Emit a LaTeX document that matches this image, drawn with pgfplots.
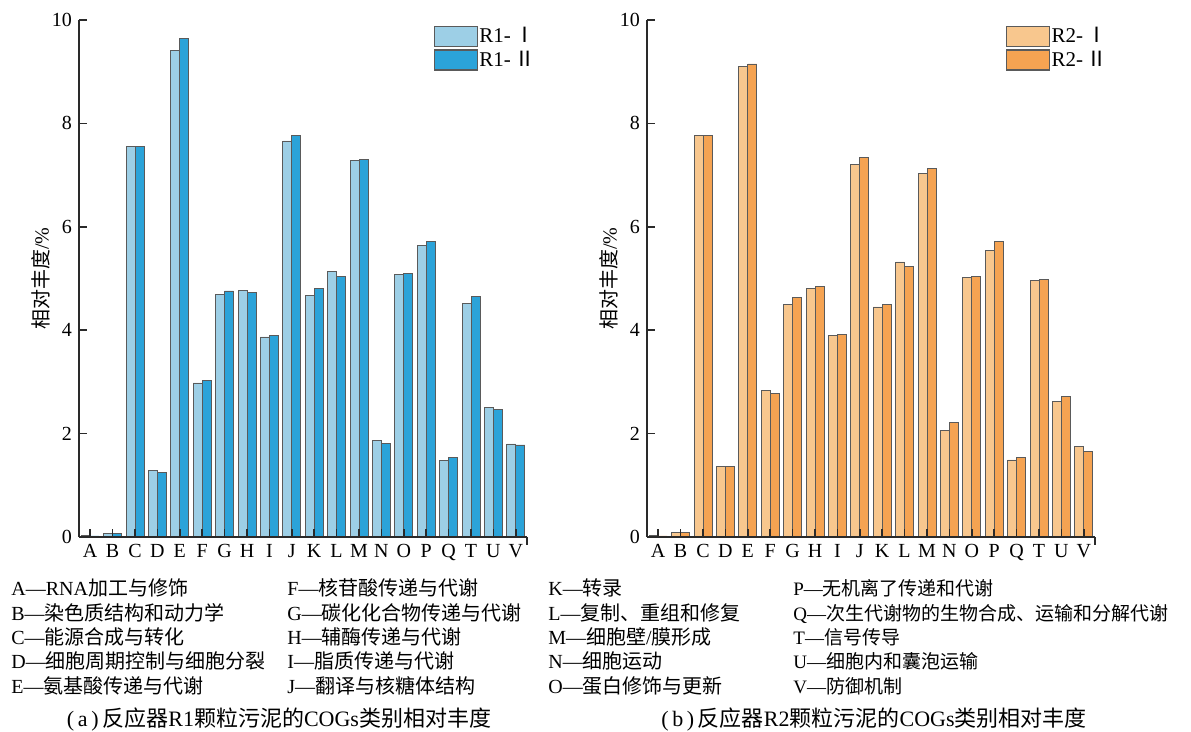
\documentclass[border=0pt]{standalone}
\usepackage{fontspec}
\setmainfont{Liberation Serif}
\newfontfamily\cjk{Noto Sans CJK SC}
\usepackage{pgfplots}
\pgfplotsset{compat=1.18}
\usepackage{pgfplotstable}

\definecolor{b1}{HTML}{9DCFE6}
\definecolor{b2}{HTML}{2BA3D9}
\definecolor{o1}{HTML}{F8C78E}
\definecolor{o2}{HTML}{F5A352}
\definecolor{edge}{HTML}{5A5A5A}
\definecolor{axc}{HTML}{2A2A2A}

% R1: a = R1-I, b = R1-II
\pgfplotstableread{
x a b
0 0.03 0.02
1 0.07 0.07
2 7.56 7.56
3 1.28 1.25
4 9.41 9.65
5 2.98 3.02
6 4.70 4.76
7 4.77 4.73
8 3.87 3.89
9 7.66 7.77
10 4.68 4.81
11 5.13 5.04
12 7.28 7.31
13 1.86 1.81
14 5.07 5.10
15 5.64 5.71
16 1.48 1.54
17 4.52 4.66
18 2.51 2.47
19 1.80 1.78
}\dataA

% R2: a = R2-I, b = R2-II
\pgfplotstableread{
x a b
0 0.03 0.02
1 0.08 0.08
2 7.76 7.77
3 1.36 1.36
4 9.11 9.15
5 2.83 2.77
6 4.49 4.63
7 4.81 4.85
8 3.90 3.92
9 7.21 7.34
10 4.45 4.50
11 5.32 5.24
12 7.03 7.12
13 2.06 2.22
14 5.02 5.04
15 5.54 5.72
16 1.49 1.54
17 4.97 4.99
18 2.62 2.72
19 1.75 1.66
}\dataB

\pgfplotsset{
  cogs/.style={
    scale only axis, width=224pt, height=258.5pt,
    xmin=-0.5, xmax=19.5, ymin=0, ymax=10,
    axis x line=bottom, axis y line=left,
    axis line style={-, draw=axc, line width=0.8pt},
    axis on top,
    ytick={0,2,4,6,8,10},
    xtick={0,...,19},
    xticklabels={A,B,C,D,E,F,G,H,I,J,K,L,M,N,O,P,Q,T,U,V},
    extra x ticks={19.5}, extra x tick labels={},
    extra x tick style={tick align=outside},
    tick align=inside, major tick length=4pt,
    tick style={draw=axc, line width=0.8pt},
    ticklabel style={font=\fontsize{10}{12}\selectfont},
    /pgf/number format/assume math mode=true,
    bar width=0.4,
    ylabel={{\cjk 相对丰度}/\%},
    ylabel style={at={(axis description cs:-0.085,0.5)}, anchor=center, rotate=0,
      font=\fontsize{10}{12}\selectfont},
    legend cell align=left,
    legend style={draw=none, fill=none, inner sep=0pt, anchor=north west,
      nodes={inner sep=0.75pt}, row sep=1.2pt,
      font=\fontsize{10.5}{12}\selectfont},
  }
}

\begin{document}
\begin{tikzpicture}
\path[use as bounding box] (0pt,0pt) rectangle (595.5pt,-366pt);

\begin{axis}[cogs, at={(39.5pt,-268.5pt)}, anchor=south west,
  legend style={at={(axis description cs:0.791,0.99)}}]
\addplot[ybar, bar shift=-0.2, fill=b1, draw=edge, line width=0.4pt, forget plot] table[x=x,y=a]{\dataA};
\addplot[ybar, bar shift=0.2, fill=b2, draw=edge, line width=0.4pt, forget plot] table[x=x,y=b]{\dataA};
\addlegendimage{legend image code/.code={\draw[fill=b1,draw=edge,line width=0.6pt] (0pt,-5pt) rectangle (21.5pt,5pt);}}
\addlegendentry{R1-\,{\cjk Ⅰ}}
\addlegendimage{legend image code/.code={\draw[fill=b2,draw=edge,line width=0.6pt] (0pt,-5pt) rectangle (21.5pt,5pt);}}
\addlegendentry{R1-\,{\cjk Ⅱ}}
\end{axis}

\begin{axis}[cogs, at={(323.5pt,-268.5pt)}, anchor=south west,
  legend style={at={(axis description cs:0.800,0.99)}}]
\addplot[ybar, bar shift=-0.2, fill=o1, draw=edge, line width=0.4pt, forget plot] table[x=x,y=a]{\dataB};
\addplot[ybar, bar shift=0.2, fill=o2, draw=edge, line width=0.4pt, forget plot] table[x=x,y=b]{\dataB};
\addlegendimage{legend image code/.code={\draw[fill=o1,draw=edge,line width=0.6pt] (0pt,-5pt) rectangle (21.5pt,5pt);}}
\addlegendentry{R2-\,{\cjk Ⅰ}}
\addlegendimage{legend image code/.code={\draw[fill=o2,draw=edge,line width=0.6pt] (0pt,-5pt) rectangle (21.5pt,5pt);}}
\addlegendentry{R2-\,{\cjk Ⅱ}}
\end{axis}

\begin{scope}[every node/.style={anchor=base west, inner sep=0pt, font=\fontsize{10}{12}\selectfont}]
\node at (5.5pt,-298pt) {A—RNA{\cjk 加工与修饰}};
\node at (5.5pt,-310.15pt) {B—{\cjk 染色质结构和动力学}};
\node at (5.5pt,-322.3pt) {C—{\cjk 能源合成与转化}};
\node at (5.5pt,-334.45pt) {D—{\cjk 细胞周期控制与细胞分裂}};
\node at (5.5pt,-346.6pt) {E—{\cjk 氨基酸传递与代谢}};

\node at (143.5pt,-298pt) {F—{\cjk 核苷酸传递与代谢}};
\node at (143.5pt,-310.15pt) {G—{\cjk 碳化化合物传递与代谢}};
\node at (143.5pt,-322.3pt) {H—{\cjk 辅酶传递与代谢}};
\node at (143.5pt,-334.45pt) {I—{\cjk 脂质传递与代谢}};
\node at (143.5pt,-346.6pt) {J—{\cjk 翻译与核糖体结构}};

\node at (274pt,-298pt) {K—{\cjk 转录}};
\node at (274pt,-310.15pt) {L—{\cjk 复制、重组和修复}};
\node at (274pt,-322.3pt) {M—{\cjk 细胞壁}/{\cjk 膜形成}};
\node at (274pt,-334.45pt) {N—{\cjk 细胞运动}};
\node at (274pt,-346.6pt) {O—{\cjk 蛋白修饰与更新}};
\end{scope}

\begin{scope}[every node/.style={anchor=base west, inner sep=0pt, font=\fontsize{9.5}{11}\selectfont}]
\node at (396.5pt,-298pt) {P—{\cjk 无机离了传递和代谢}};
\node at (396.5pt,-310.15pt) {Q—{\cjk 次生代谢物的生物合成、运输和分解代谢}};
\node at (396.5pt,-322.3pt) {T—{\cjk 信号传导}};
\node at (396.5pt,-334.45pt) {U—{\cjk 细胞内和囊泡运输}};
\node at (396.5pt,-346.6pt) {V—{\cjk 防御机制}};
\end{scope}

\begin{scope}[every node/.style={anchor=base, inner sep=0pt, font=\fontsize{11}{13}\selectfont}]
\node at (139.5pt,-363.5pt) {(\,a\,)\,{\cjk 反应器}R1{\cjk 颗粒污泥的}COGs{\cjk 类别相对丰度}};
\node at (437pt,-363.5pt) {(\,b\,)\,{\cjk 反应器}R2{\cjk 颗粒污泥的}COGs{\cjk 类别相对丰度}};
\end{scope}
\end{tikzpicture}
\end{document}
